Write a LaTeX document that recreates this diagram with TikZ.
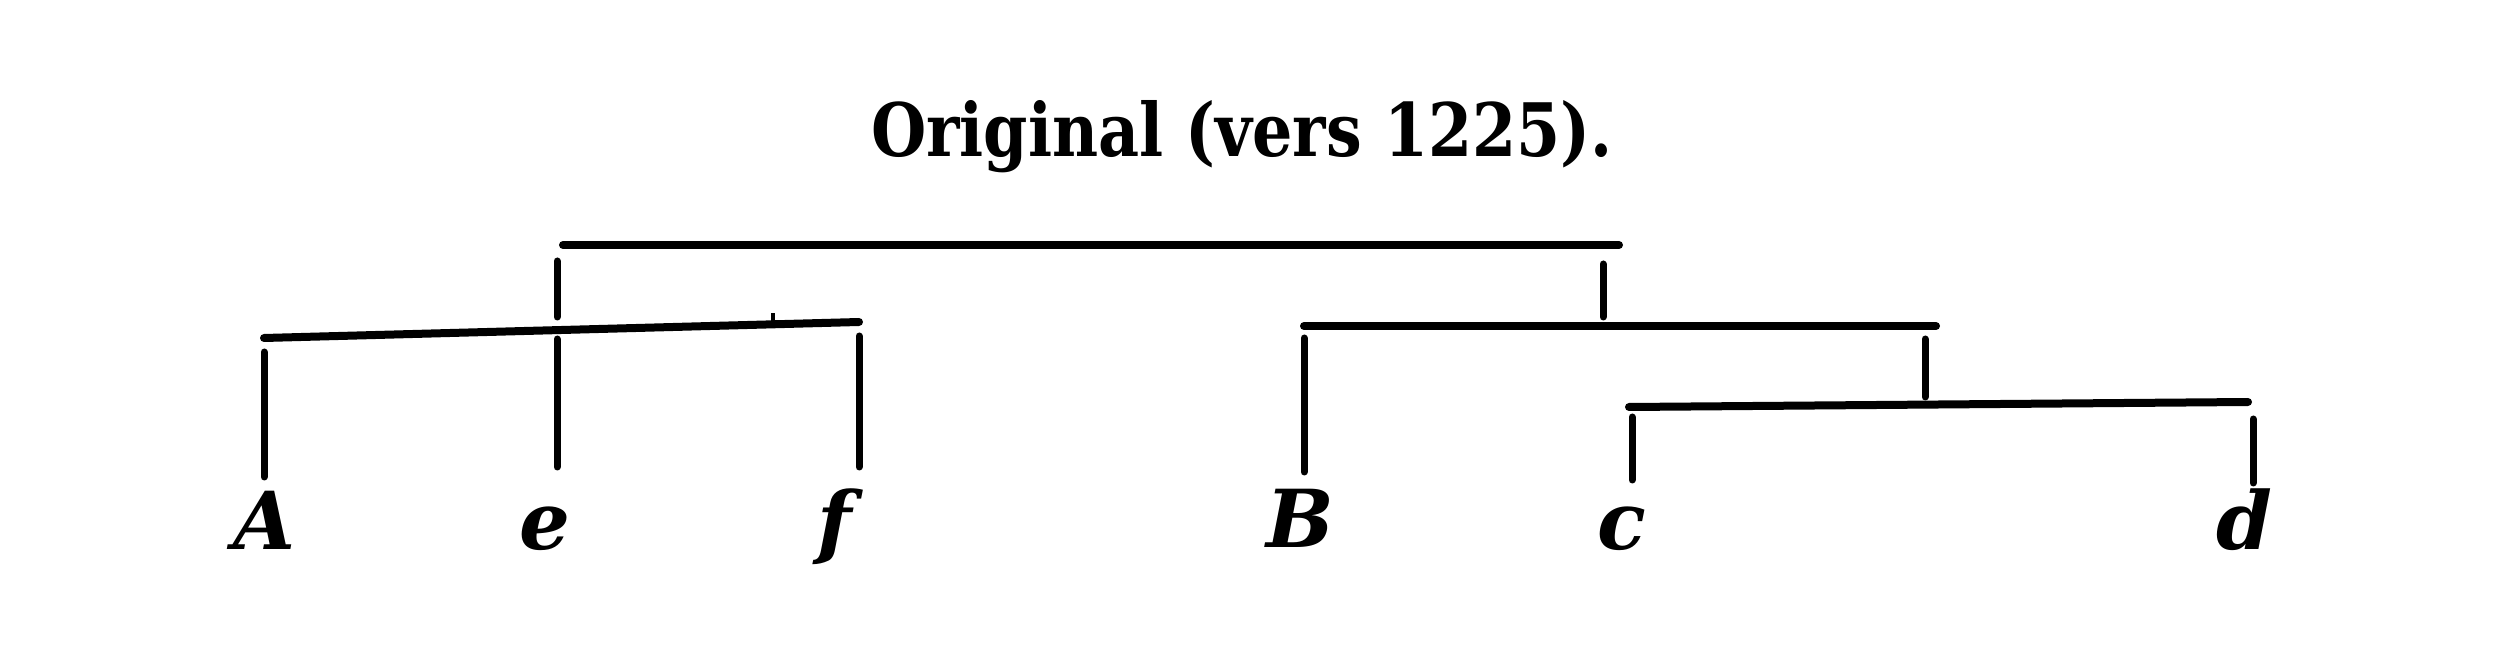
\documentclass[tikz,border=0pt]{standalone}
\usepackage{fontspec}
\setmainfont{DejaVu Serif}
\begin{document}
\begin{tikzpicture}[x=0.4pt,y=-0.4pt,
  bar/.style={line width=3.2pt,line cap=round},
  stem/.style={line width=2.8pt,line cap=round},
  leaf/.style={font=\fontsize{32}{36}\selectfont\bfseries\itshape, inner sep=0pt, anchor=base},
  titlestyle/.style={font=\fontsize{29.5}{34}\selectfont\bfseries, inner sep=0pt, anchor=base}]
\useasboundingbox (0,0) rectangle (2508,645);
\node[titlestyle] (title) at (1242,157) {\scalebox{0.86}[1]{Original (vers 1225).}};
% top bar
\coordinate (t1) at (563,245); \coordinate (t2) at (1619,245);
\draw[bar] (t1) -- (t2);
\coordinate (dl1) at (557,261); \coordinate (dl2) at (557,317);
\coordinate (dr1) at (1603,264); \coordinate (dr2) at (1603,317);
\draw[stem] (dl1) -- (dl2);
\draw[stem] (dr1) -- (dr2);
% left group
\coordinate (l1) at (264,338); \coordinate (l2) at (859,322);
\draw[bar] (l1) -- (l2);
\coordinate (tk1) at (773,325); \coordinate (tk2) at (773,313);
\draw[line width=1.5pt] (tk1) -- (tk2);
\node[leaf] (A) at (265,549) {A};
\node[leaf] (e) at (545,549) {e};
\node[leaf] (f) at (835,549) {f};
\coordinate (a1) at (264,352); \coordinate (a2) at (264,477);
\coordinate (e1) at (557,339); \coordinate (e2) at (557,467);
\coordinate (f1) at (859,336); \coordinate (f2) at (859,467);
\draw[stem] (a1) -- (a2);
\draw[stem] (e1) -- (e2);
\draw[stem] (f1) -- (f2);
% right group
\coordinate (r1) at (1304,326); \coordinate (r2) at (1936,326);
\draw[bar] (r1) -- (r2);
\node[leaf] (B) at (1300,547) {B};
\coordinate (b1) at (1304,338); \coordinate (b2) at (1304,472);
\draw[stem] (b1) -- (b2);
\coordinate (s1) at (1925,339); \coordinate (s2) at (1925,397);
\draw[stem] (s1) -- (s2);
\coordinate (q1) at (1629,407); \coordinate (q2) at (2248,402);
\draw[bar] (q1) -- (q2);
\node[leaf] (c) at (1622,549) {c};
\node[leaf] (d) at (2244,549) {d};
\coordinate (c1) at (1632,417); \coordinate (c2) at (1632,480);
\coordinate (d1) at (2253,419); \coordinate (d2) at (2253,483);
\draw[stem] (c1) -- (c2);
\draw[stem] (d1) -- (d2);
\end{tikzpicture}
\end{document}
